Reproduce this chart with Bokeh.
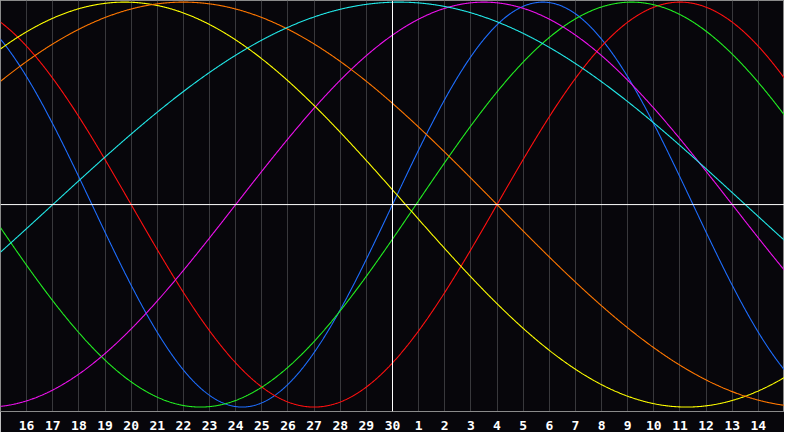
import numpy as np
from bokeh.plotting import figure
from bokeh.models import Range1d, Span, FixedTicker
from bokeh.embed import file_html
from bokeh.resources import INLINE

# Biorhythm cycles: period (days) and cycle day reached at the centre date (the 30th)
cycle_names = ["physical", "emotional", "intellectual", "intuitive", "aesthetic", "awareness", "spiritual"]
cycle_periods = [23, 28, 33, 38, 43, 48, 53]
cycle_day_at_center = [0, 24, 32.1, 6, 21, 20, 13]
cycle_colors = ["#1e6eff", "#ff1010", "#22ee22", "#ee11ee", "#ffff00", "#ff7700", "#22e8e8"]

# Day labels along the bottom (offset from centre date -> day of month)
day_offsets = list(range(-14, 15))
day_labels = [str(d) for d in list(range(16, 31)) + list(range(1, 15))]

W, H = 784, 432
p = figure(width=W, height=H, output_backend="svg", toolbar_location=None,
           x_range=Range1d(-15, 15), y_range=Range1d(-1.022, 1.008),
           min_border_left=0, min_border_right=0, min_border_top=0, min_border_bottom=19,
           background_fill_color="#07060b", border_fill_color="#07060b")
p.outline_line_color = "#8a8a8a"
p.outline_line_width = 1

p.yaxis.visible = False
p.ygrid.visible = False

xa = p.xaxis[0]
xa.ticker = FixedTicker(ticks=day_offsets)
xa.major_label_overrides = {t: lab for t, lab in zip(day_offsets, day_labels)}
xa.major_tick_line_color = None
xa.minor_tick_line_color = None
xa.axis_line_color = "#8a8a8a"
xa.major_label_text_color = "white"
xa.major_label_text_font = "DejaVu Sans Mono"
xa.major_label_text_font_style = "bold"
xa.major_label_text_font_size = "13px"
xa.major_label_standoff = 3

p.xgrid.ticker = FixedTicker(ticks=day_offsets)
p.xgrid.grid_line_color = "#38383c"
p.xgrid.grid_line_width = 1

t = np.linspace(-15, 15, 1201)
for period, c0, col in zip(cycle_periods, cycle_day_at_center, cycle_colors):
    y = np.sin(2 * np.pi * (c0 + t) / period)
    p.line(t, y, line_color=col, line_width=1.1)

p.add_layout(Span(location=0, dimension="width", line_color="white", line_width=1))
p.add_layout(Span(location=0, dimension="height", line_color="white", line_width=1))

open("out.html", "w").write(file_html(p, INLINE))
